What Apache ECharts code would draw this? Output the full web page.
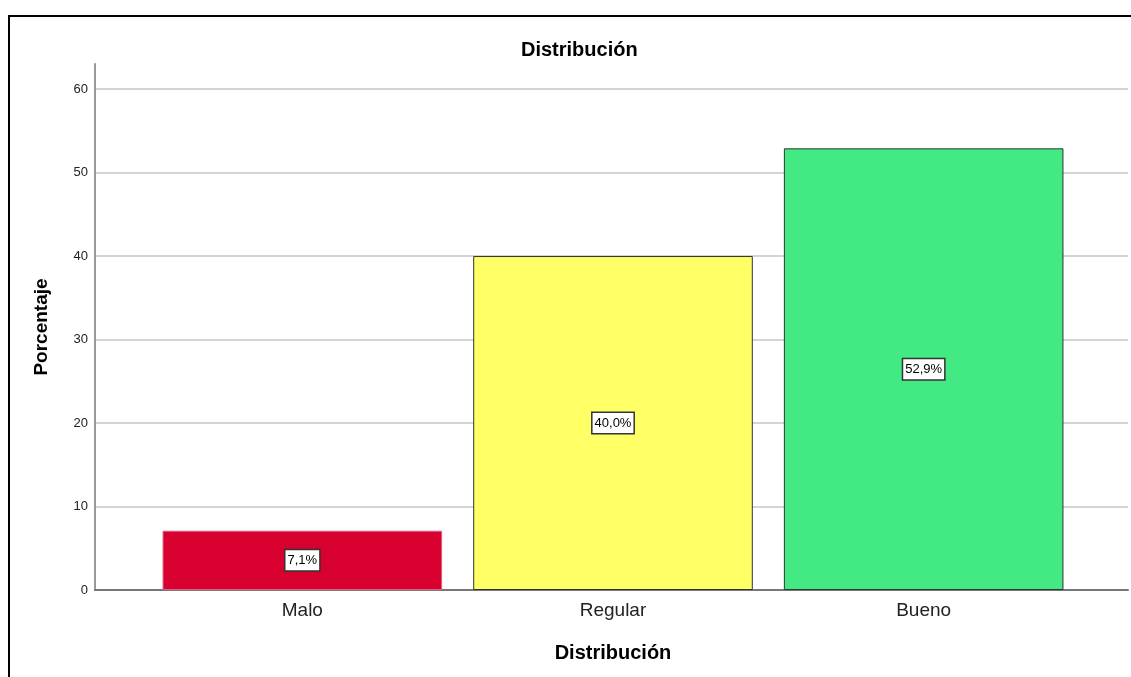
<!DOCTYPE html>
<html>
<head>
<meta charset="utf-8">
<script src="https://cdn.jsdelivr.net/npm/echarts@6/dist/echarts.min.js"></script>
<style>
html, body { margin: 0; padding: 0; background: #fff; }
#main { width: 1131px; height: 677px; }
</style>
</head>
<body>
<div id="main"></div>
<script>
// datos del grafico
var categorias = ['Malo', 'Regular', 'Bueno'];
var porcentajes = [7.1, 40.0, 52.9];
var etiquetas = ['7,1%', '40,0%', '52,9%'];
var colores = ['#D7002F', '#FFFF66', '#43E982'];
var bordes = ['#E06080', '#333333', '#333333'];
var ticksY = [0, 10, 20, 30, 40, 50, 60];

var fuente = 'Liberation Sans, Arial, sans-serif';
var myChart = echarts.init(document.getElementById('main'));

// lineas de rejilla: sin linea en el tope (63)
var coloresRejilla = ticksY.map(function () { return '#d4d4d4'; });
coloresRejilla.push('rgba(0,0,0,0)');

myChart.setOption({
    animation: false,
    title: {
        text: 'Distribución',
        left: 516,
        top: 35,
        textStyle: { fontFamily: fuente, fontSize: 20, fontWeight: 'bold', color: '#000' }
    },
    graphic: [{
        type: 'rect',
        shape: { x: 9, y: 16, width: 1130, height: 670 },
        style: { fill: 'none', stroke: '#000', lineWidth: 2 }
    }],
    grid: [
        // rejilla ancha: eje y, lineas y base
        { left: 95, right: 3, top: 64, bottom: 87 },
        // rejilla de las barras
        { left: 147, right: 52, top: 64, bottom: 87 }
    ],
    xAxis: [
        {
            gridIndex: 0, type: 'value', min: 0, max: 1,
            axisLine: { show: true, lineStyle: { color: '#777', width: 2 } },
            axisTick: { show: false }, axisLabel: { show: false }, splitLine: { show: false }
        },
        {
            gridIndex: 1, type: 'category', data: categorias,
            name: 'Distribución', nameLocation: 'middle', nameGap: 53,
            nameTextStyle: { fontFamily: fuente, fontSize: 20, fontWeight: 'bold', color: '#000' },
            axisLine: { show: false }, axisTick: { show: false },
            axisLabel: { fontFamily: fuente, fontSize: 19, color: '#222', margin: 11 }
        }
    ],
    yAxis: [
        {
            gridIndex: 0, type: 'value', min: 0, max: 63, interval: 10,
            name: 'Porcentaje', nameLocation: 'middle', nameGap: 44,
            nameTextStyle: { fontFamily: fuente, fontSize: 19, fontWeight: 'bold', color: '#000' },
            axisLine: { show: true, lineStyle: { color: '#999', width: 2 } },
            axisTick: { show: false },
            axisLabel: {
                fontFamily: fuente, fontSize: 13, color: '#222', margin: 7,
                formatter: function (v) { return ticksY.indexOf(v) >= 0 ? String(v) : ''; }
            },
            splitLine: { show: true, lineStyle: { color: coloresRejilla, width: 2 } }
        },
        {
            gridIndex: 1, type: 'value', min: 0, max: 63, interval: 10,
            axisLine: { show: false }, axisTick: { show: false }, axisLabel: { show: false },
            splitLine: { show: false }
        }
    ],
    series: [{
        type: 'bar',
        xAxisIndex: 1,
        yAxisIndex: 1,
        barCategoryGap: '10%',
        data: porcentajes.map(function (v, i) {
            return {
                value: v,
                itemStyle: { color: colores[i], borderColor: bordes[i], borderWidth: 1 },
                label: { formatter: etiquetas[i] }
            };
        }),
        label: {
            show: true,
            position: 'inside',
            fontFamily: fuente,
            fontSize: 13,
            color: '#000',
            backgroundColor: '#fff',
            borderColor: '#333',
            borderWidth: 1.5,
            padding: [4, 2, 3, 2]
        }
    }]
});
</script>
</body>
</html>
